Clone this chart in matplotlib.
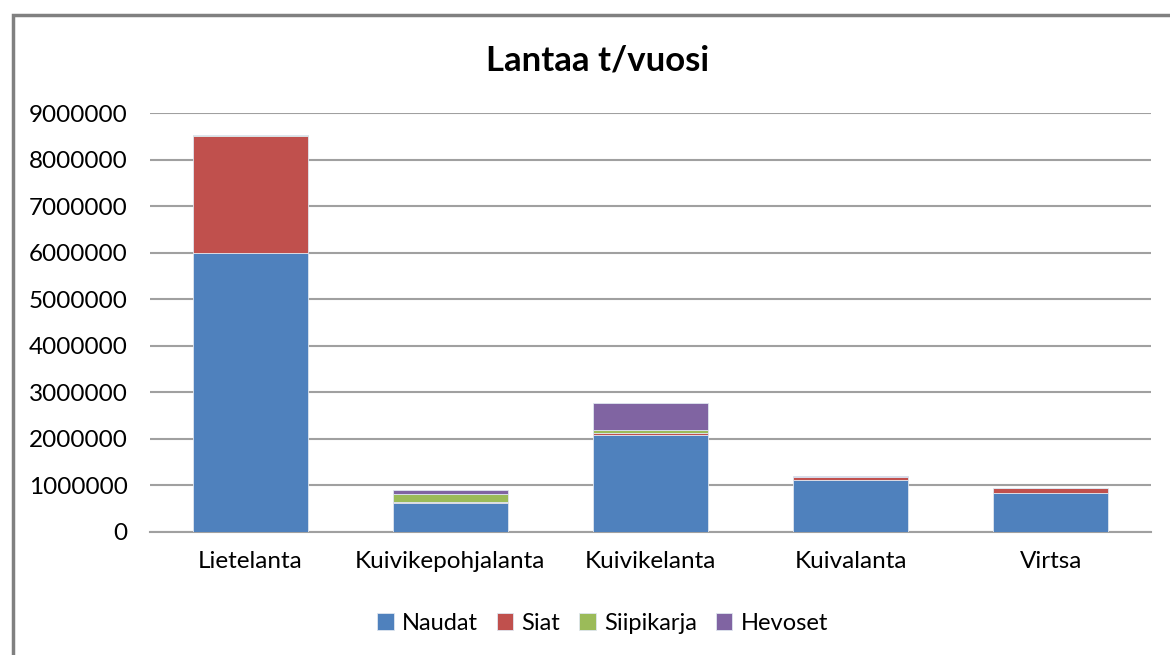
import numpy as np
import matplotlib
matplotlib.use("Agg")
import matplotlib.pyplot as plt
from matplotlib.patches import Rectangle

plt.rcParams['font.family'] = ['Lato', 'DejaVu Sans']

categories = ["Lietelanta", "Kuivikepohjalanta", "Kuivikelanta", "Kuivalanta", "Virtsa"]
naudat = [6000000, 620000, 2080000, 1120000, 845000]
siat = [2500000, 30000, 40000, 60000, 90000]
siipikarja = [20000, 170000, 70000, 0, 0]
hevoset = [0, 80000, 590000, 30000, 20000]

series = [("Naudat", naudat, "#4F81BD"),
          ("Siat", siat, "#C0504D"),
          ("Siipikarja", siipikarja, "#9BBB59"),
          ("Hevoset", hevoset, "#8064A2")]

fig = plt.figure(figsize=(11.7, 6.55), dpi=100)
ax = fig.add_axes([150/1170, 1-532/655, 1001/1170, 419/655])

x = np.arange(len(categories))
bottom = np.zeros(len(categories))
for name, vals, col in series:
    ax.bar(x, vals, 0.575, bottom=bottom, color=col, label=name,
           edgecolor="#dfe6f0", linewidth=0.6, zorder=3)
    bottom += np.array(vals)

ax.set_xlim(-0.5, len(categories) - 0.5)
ax.set_ylim(0, 9000000)
ax.set_yticks(np.arange(0, 9000001, 1000000))
ax.set_yticklabels([str(v) for v in range(0, 9000001, 1000000)])
ax.set_xticks(x)
ax.set_xticklabels(categories)
ax.tick_params(axis="both", length=0, labelsize=17.5, colors="#000000")
ax.tick_params(axis="y", pad=16)
ax.tick_params(axis="x", pad=14)
ax.grid(axis="y", color="#a0a0a0", linewidth=1.5, zorder=0)
for s in ["top", "right", "left"]:
    ax.spines[s].set_visible(False)
ax.spines["bottom"].set_color("#a0a0a0")
ax.spines["bottom"].set_linewidth(1.5)

fig.text(0.511, 1-60/655, "Lantaa t/vuosi", ha="center", va="center",
         fontsize=25, fontweight="bold")

fig.legend(loc="center", bbox_to_anchor=(0.515, 1-623/655), ncol=4,
           frameon=False, fontsize=17, handlelength=0.7, handleheight=0.7,
           handletextpad=0.35, columnspacing=0.8)

fig.patches.append(Rectangle((13/1170, -0.1), 1.2, 1-15/655+0.1,
                             transform=fig.transFigure, fill=False,
                             edgecolor="#808080", linewidth=2.5, clip_on=False))

fig.savefig("out.png", dpi=100)
